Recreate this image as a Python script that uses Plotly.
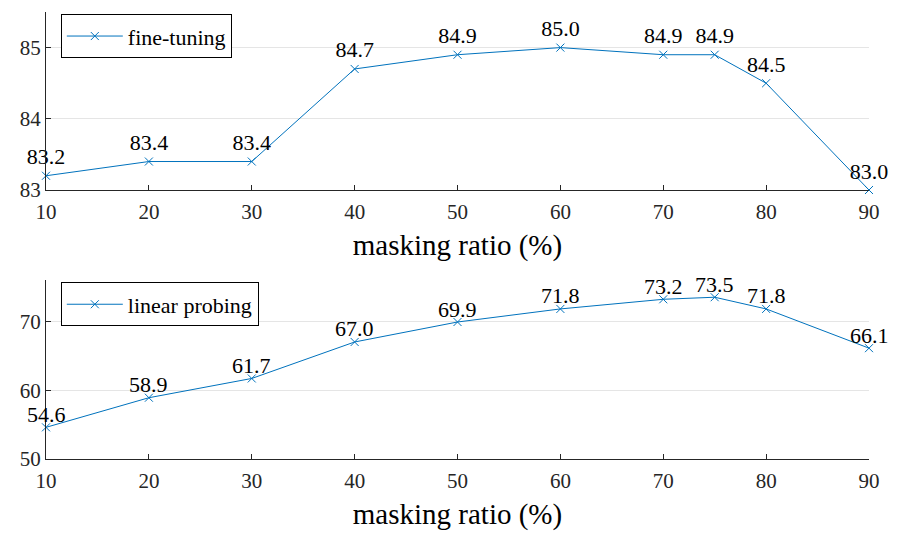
import plotly.graph_objects as go
from plotly.subplots import make_subplots

ratios = [10, 20, 30, 40, 50, 60, 70, 75, 80, 90]
fine_tuning = [83.2, 83.4, 83.4, 84.7, 84.9, 85.0, 84.9, 84.9, 84.5, 83.0]
linear_probing = [54.6, 58.9, 61.7, 67.0, 69.9, 71.8, 73.2, 73.5, 71.8, 66.1]
x_ticks = [10, 20, 30, 40, 50, 60, 70, 80, 90]

FONT = "Liberation Serif, Times New Roman, serif"
BLUE = "#0072BD"
AXC = "#262626"

fig = make_subplots(rows=2, cols=1, vertical_spacing=0.2)

fig.add_trace(go.Scatter(
    x=ratios, y=fine_tuning, mode="lines+markers+text", name="fine-tuning",
    line=dict(color=BLUE, width=1),
    marker=dict(symbol="x-thin", size=8, line=dict(color=BLUE, width=1)),
    text=[f"{v:.1f}" for v in fine_tuning], textposition="top center",
    textfont=dict(family=FONT, size=22, color="black"),
    legend="legend", cliponaxis=False), row=1, col=1)

fig.add_trace(go.Scatter(
    x=ratios, y=linear_probing, mode="lines+markers", name="linear probing",
    line=dict(color=BLUE, width=1),
    marker=dict(symbol="x-thin", size=8, line=dict(color=BLUE, width=1)),
    legend="legend2", cliponaxis=False), row=2, col=1)

for xv, yv in zip(ratios, linear_probing):
    fig.add_annotation(x=xv, y=yv, xref="x2", yref="y2", text=f"{yv:.1f}",
                       showarrow=False, yanchor="middle", xanchor="center", yshift=13,
                       font=dict(family=FONT, size=22, color="black"))

axis_common = dict(showline=True, linecolor=AXC, linewidth=1, ticks="inside",
                   ticklen=5, tickcolor=AXC, tickfont=dict(family=FONT, size=21, color=AXC),
                   zeroline=False, mirror=False, automargin=False)

fig.update_xaxes(range=[10, 90], tickvals=x_ticks, showgrid=False, ticklabelstandoff=3,
                 title=dict(text="masking ratio (%)", font=dict(family=FONT, size=29, color="black"), standoff=11),
                 **axis_common)
fig.update_yaxes(showgrid=True, gridcolor="#e5e5e5", gridwidth=1, **axis_common)

fig.update_yaxes(range=[83, 85.5], tickvals=[83, 84, 85], row=1, col=1)
fig.update_yaxes(range=[50, 76], tickvals=[50, 60, 70], row=2, col=1)

fig.update_layout(
    width=892, height=530,
    font=dict(family=FONT),
    margin=dict(l=38, r=31, t=4, b=79),
    paper_bgcolor="white", plot_bgcolor="white",
    yaxis=dict(domain=[0.6018, 1.0]),
    yaxis2=dict(domain=[0.0, 0.4004]),
    legend=dict(x=0.018, y=0.995, xanchor="left", yanchor="top",
                bordercolor="#000000", borderwidth=1, bgcolor="white",
                font=dict(family=FONT, size=22, color="black"),
                itemwidth=56, tracegroupgap=0),
    legend2=dict(x=0.018, y=0.395, xanchor="left", yanchor="top",
                 bordercolor="#000000", borderwidth=1, bgcolor="white",
                 font=dict(family=FONT, size=22, color="black"),
                 itemwidth=56, tracegroupgap=0),
    showlegend=True,
)

fig.write_html("out.html")
